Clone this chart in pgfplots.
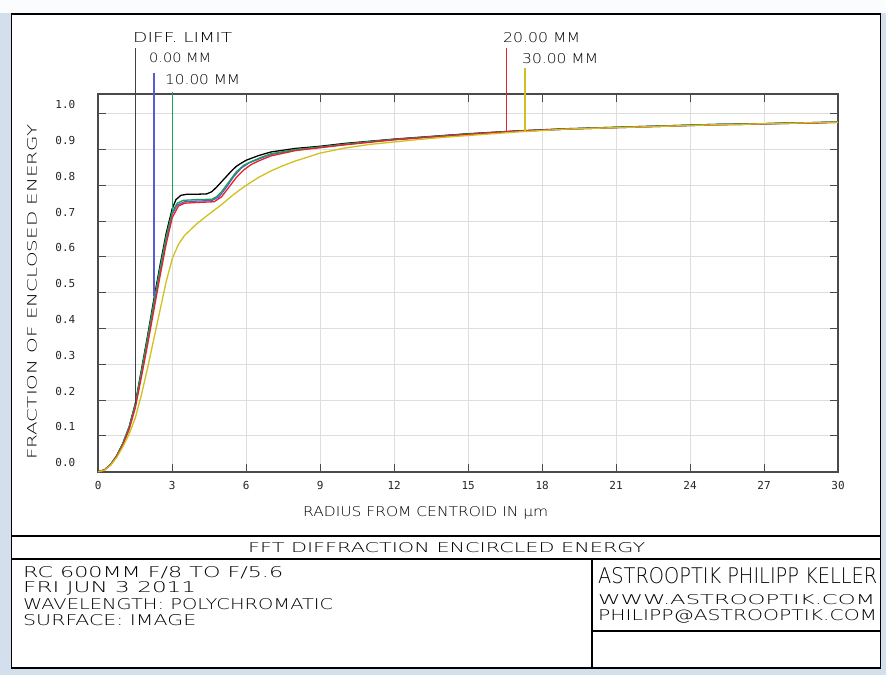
\documentclass[border=0pt]{standalone}
\usepackage{fontspec}
\usepackage{graphicx}
\usepackage{pgfplots}
\pgfplotsset{compat=1.18}
\newfontfamily\zf{DejaVu Sans Mono}
\newfontfamily\zl{DejaVu Sans ExtraLight}
% text box of given width and cap height (in px = pt)
\newcommand{\zt}[3]{\resizebox{#1pt}{#2pt}{\zl #3}}
\definecolor{winbg}{HTML}{D3DFEC}
\definecolor{frm}{HTML}{4A4A4A}
\definecolor{cblue}{HTML}{5A5AD2}
\definecolor{cgreen}{HTML}{1AA05A}
\definecolor{cred}{HTML}{E8202A}
\definecolor{cyel}{HTML}{D2C01E}

\begin{document}
\begin{tikzpicture}[x=1pt,y=1pt]
\path[use as bounding box, fill=winbg] (0,0) rectangle (886,675);
\fill[white!92!winbg] (0,662) rectangle (886,675);
\filldraw[fill=white, draw=black, line width=1.5pt] (11.5,7) rectangle (880.5,661);
\draw[line width=1.5pt] (11.5,139) -- (880.5,139);
\draw[line width=1.5pt] (11.5,116) -- (880.5,116);
\draw[line width=1.5pt] (592,116) -- (592,7);
\draw[line width=1.5pt] (592,44) -- (880.5,44);

% title block
\node[anchor=base west, inner sep=0] at (248,122) {\zt{397}{10}{FFT DIFFRACTION ENCIRCLED ENERGY}};
\node[anchor=base west, inner sep=0] at (23,97) {\zt{260}{11}{RC 600MM F/8 TO F/5.6}};
\node[anchor=base west, inner sep=0] at (23,82) {\zt{173}{11}{FRI JUN 3 2011}};
\node[anchor=base west, inner sep=0] at (23,66) {\zt{310}{11}{WAVELENGTH: POLYCHROMATIC}};
\node[anchor=base west, inner sep=0] at (23,50) {\zt{173}{11}{SURFACE: IMAGE}};
\node[anchor=base west, inner sep=0] at (598,92) {\zt{279}{16}{ASTROOPTIK PHILIPP KELLER}};
\node[anchor=base west, inner sep=0] at (598,71) {\zt{277}{10}{WWW.ASTROOPTIK.COM}};
\node[anchor=base west, inner sep=0] at (598,55) {\zt{279}{11}{PHILIPP@ASTROOPTIK.COM}};

% field labels
\node[anchor=base west, inner sep=0] at (133,632) {\zt{99}{10}{DIFF. LIMIT}};
\node[anchor=base west, inner sep=0] at (149,612) {\zt{62}{9.5}{0.00 MM}};
\node[anchor=base west, inner sep=0] at (165,590) {\zt{75}{10}{10.00 MM}};
\node[anchor=base west, inner sep=0] at (503,632) {\zt{77}{10}{20.00 MM}};
\node[anchor=base west, inner sep=0] at (522,611) {\zt{76}{10}{30.00 MM}};

% axis labels
\node[anchor=base west, inner sep=0, rotate=90] at (36.5,215) {\zt{335}{9.5}{FRACTION OF ENCLOSED ENERGY}};
\node[anchor=base west, inner sep=0] at (303,158) {\zt{245}{10}{RADIUS FROM CENTROID IN µm}};

\begin{axis}[
    at={(98.3pt,203.3pt)}, anchor=south west,
    scale only axis, width=739.7pt, height=377.7pt,
    xmin=0, xmax=30, ymin=0, ymax=1.055,
    xtick={0,3,...,30},
    ytick={0,0.1,0.2,0.3,0.4,0.5,0.6,0.7,0.8,0.9,1.0},
    grid=major,
    major grid style={draw=black!13, line width=0.8pt},
    axis line style={draw=frm, line width=1.8pt},
    tick align=inside, major tick length=8pt,
    major tick style={draw=frm, line width=1pt},
    /pgf/number format/assume math mode=true,
    ticklabel style={font=\zf\fontsize{11}{12}\selectfont, text=black!85},
    yticklabel style={anchor=base east, xshift=-19.5pt, yshift=5pt,
        /pgf/number format/fixed, /pgf/number format/fixed zerofill,
        /pgf/number format/precision=1},
    xticklabel style={anchor=north, yshift=-6.5pt},
    clip=false,
]

% diffraction limit
\addplot[black, line width=1.3pt] coordinates {
(0,0) (0.25,0.005) (0.5,0.02) (0.75,0.045) (1.0,0.08) (1.25,0.125) (1.5,0.19)
(1.75,0.285) (2.0,0.38) (2.25,0.48) (2.5,0.575) (2.75,0.665) (3.0,0.735)
(3.15,0.76) (3.35,0.772) (3.6,0.775) (4.0,0.775) (4.4,0.776) (4.6,0.782)
(4.8,0.795) (5.0,0.81) (5.2,0.825) (5.4,0.84) (5.6,0.853) (5.8,0.862)
(6.0,0.87) (6.5,0.883) (7.0,0.893) (7.5,0.898) (8.0,0.903) (9.0,0.909)
(10,0.917) (11,0.923) (12,0.929) (13,0.934) (14,0.939) (15,0.944) (16,0.948)
(17,0.952) (18,0.955) (19,0.958) (20,0.96) (21,0.962) (22,0.964) (23,0.966)
(24,0.968) (25,0.97) (26,0.971) (27,0.972) (28,0.974) (29,0.975) (30,0.977)
};
% 0.00 mm
\addplot[cblue, line width=1.3pt] coordinates {
(0,0) (0.25,0.005) (0.5,0.02) (0.75,0.044) (1.0,0.078) (1.25,0.122) (1.5,0.184)
(1.75,0.276) (2.0,0.368) (2.25,0.465) (2.5,0.56) (2.75,0.65) (3.0,0.72)
(3.2,0.745) (3.5,0.754) (4.0,0.756) (4.6,0.757) (4.9,0.768) (5.2,0.795)
(5.5,0.825) (5.8,0.848) (6.1,0.862) (6.6,0.876) (7.0,0.886) (8.0,0.899)
(9.0,0.906) (10,0.914) (11,0.921) (12,0.928) (13,0.933) (14,0.938) (15,0.943)
(16,0.947) (17,0.951) (18,0.954) (19,0.957) (20,0.959) (21,0.961) (22,0.963)
(23,0.965) (24,0.967) (25,0.969) (26,0.97) (27,0.971) (28,0.973) (29,0.974) (30,0.976)
};
% 10.00 mm
\addplot[cgreen, line width=1.3pt] coordinates {
(0,0) (0.25,0.005) (0.5,0.02) (0.75,0.045) (1.0,0.079) (1.25,0.124) (1.5,0.187)
(1.75,0.28) (2.0,0.374) (2.25,0.472) (2.5,0.566) (2.75,0.656) (3.0,0.726)
(3.2,0.75) (3.45,0.758) (4.0,0.76) (4.6,0.761) (4.8,0.768) (5.0,0.782)
(5.3,0.81) (5.6,0.838) (5.9,0.856) (6.2,0.866) (6.6,0.878) (7.0,0.888)
(8.0,0.9) (9.0,0.907) (10,0.915) (11,0.922) (12,0.928) (13,0.933) (14,0.938)
(15,0.943) (16,0.947) (17,0.951) (18,0.954) (19,0.957) (20,0.96) (21,0.962)
(22,0.964) (23,0.966) (24,0.968) (25,0.97) (26,0.971) (27,0.972) (28,0.974) (29,0.975) (30,0.977)
};
% 20.00 mm
\addplot[cred, line width=1.3pt] coordinates {
(0,0) (0.25,0.005) (0.5,0.019) (0.75,0.043) (1.0,0.075) (1.25,0.118) (1.5,0.178)
(1.75,0.265) (2.0,0.355) (2.25,0.45) (2.5,0.545) (2.75,0.635) (3.0,0.71)
(3.25,0.742) (3.5,0.75) (4.0,0.752) (4.7,0.754) (5.0,0.768) (5.3,0.795)
(5.6,0.822) (5.9,0.843) (6.2,0.858) (6.5,0.868) (7.0,0.882) (8.0,0.897)
(9.0,0.905) (10,0.913) (11,0.92) (12,0.927) (13,0.932) (14,0.937) (15,0.942)
(16,0.947) (17,0.951) (18,0.954) (19,0.957) (20,0.959) (21,0.961) (22,0.963)
(23,0.965) (24,0.967) (25,0.969) (26,0.97) (27,0.972) (28,0.973) (29,0.974) (30,0.976)
};
% 30.00 mm
\addplot[cyel, line width=1.3pt] coordinates {
(0,0) (0.25,0.004) (0.5,0.018) (0.75,0.04) (1.0,0.07) (1.25,0.105) (1.5,0.15)
(1.75,0.215) (2.0,0.29) (2.25,0.37) (2.5,0.45) (2.75,0.53) (3.0,0.595)
(3.25,0.635) (3.5,0.66) (4.0,0.693) (4.5,0.72) (5.0,0.746) (5.5,0.775)
(6.0,0.8) (6.5,0.822) (7.0,0.84) (7.5,0.855) (8.0,0.868) (9.0,0.89)
(10,0.904) (11,0.914) (12,0.921) (13,0.928) (14,0.934) (15,0.939) (16,0.944)
(17,0.949) (18,0.953) (19,0.957) (20,0.959) (21,0.961) (22,0.963) (23,0.965)
(24,0.967) (25,0.969) (26,0.97) (27,0.972) (28,0.973) (29,0.975) (30,0.976)
};

% field marker lines
\addplot[black!75, line width=1.3pt] coordinates {(1.5,1.183) (1.5,0.19)};
\addplot[cblue, line width=1.3pt] coordinates {(2.26,1.114) (2.26,0.49)};
\addplot[cgreen, line width=1.3pt] coordinates {(3.02,1.06) (3.02,0.73)};
\addplot[cred, line width=1.3pt] coordinates {(16.55,1.183) (16.55,0.951)};
\addplot[cyel, line width=1.3pt] coordinates {(17.3,1.128) (17.3,0.953)};
\end{axis}
\end{tikzpicture}
\end{document}
